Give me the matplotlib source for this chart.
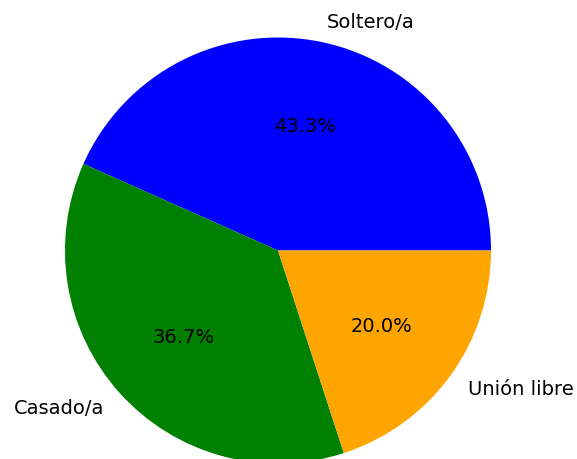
import matplotlib
matplotlib.use("Agg")
import matplotlib.pyplot as plt

# marital status counts
labels = ["Soltero/a", "Casado/a", "Unión libre"]
counts = [13, 11, 6]
colors = ["blue", "green", "orange"]

fig = plt.figure(figsize=(5.77, 4.6), dpi=100)
# axes placed so the pie sits where it is in the reference
ax = fig.add_axes([11.75 / 577, -57.75 / 460, 532.5 / 577, 532.5 / 460])
ax.pie(counts, labels=labels, colors=colors, autopct="%1.1f%%",
       textprops={"fontsize": 14})
ax.set_xlim(-1.25, 1.25)
ax.set_ylim(-1.25, 1.25)
ax.set_aspect("equal")

fig.savefig("out.png", dpi=100)
